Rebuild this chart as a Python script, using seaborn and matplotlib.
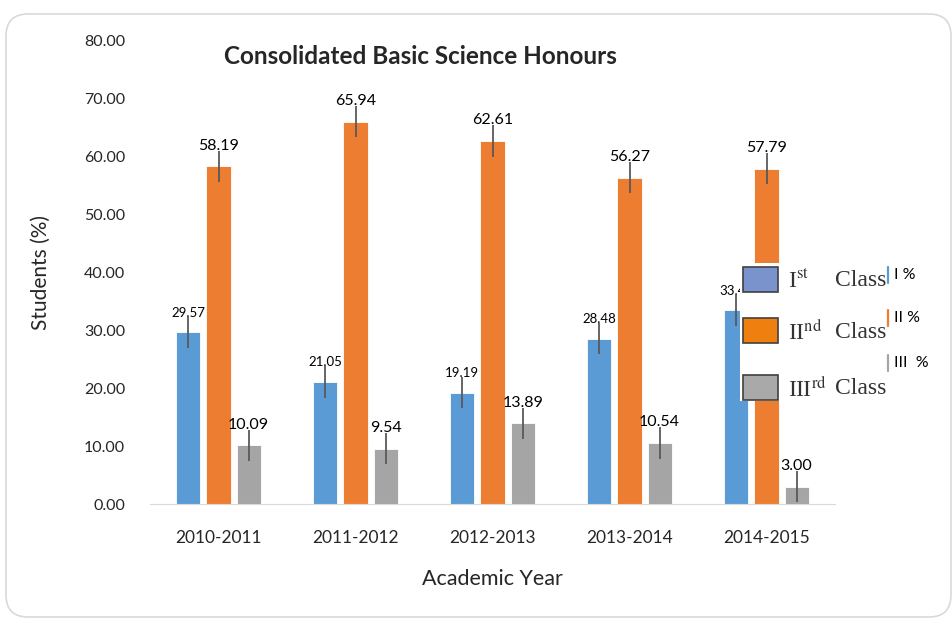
import numpy as np
import pandas as pd
import matplotlib
matplotlib.use("Agg")
import matplotlib.pyplot as plt
import seaborn as sns
from matplotlib.patches import FancyBboxPatch, Rectangle

# chart values
years = ["2010-2011", "2011-2012", "2012-2013", "2013-2014", "2014-2015"]
classes = ["I %", "II %", "III  %"]
first_class = [29.57, 21.05, 19.19, 28.48, 33.40]
second_class = [58.19, 65.94, 62.61, 56.27, 57.79]
third_class = [10.09, 9.54, 13.89, 10.54, 3.00]
error = [2.7, 2.7, 2.7]
colors = ["#5b9bd5", "#ed7d31", "#a5a5a5"]
y_ticks = [0, 10, 20, 30, 40, 50, 60, 70, 80]

df = pd.DataFrame({
    "year": years * 3,
    "pct": first_class + second_class + third_class,
    "cls": [c for c in classes for _ in years],
})

sns.set_style("white")
plt.rcParams["font.family"] = ["Lato", "DejaVu Sans"]
plt.rcParams["mathtext.fontset"] = "stix"

fig = plt.figure(figsize=(9.52, 6.21), dpi=100)
W, H = 952, 621

# overlay in pixel coords for the rounded frame
over = fig.add_axes([0, 0, 1, 1], zorder=0)
over.set_xlim(0, W)
over.set_ylim(H, 0)
over.axis("off")
over.add_patch(FancyBboxPatch((6, 14), 945, 603, boxstyle="round,pad=0,rounding_size=22",
                              fc="white", ec="#d9d9d9", lw=1.2))

ax = fig.add_axes([150 / W, 1 - 504 / H, 685 / W, 464 / H], zorder=1)
ax.patch.set_alpha(0)
sns.barplot(data=df, x="year", y="pct", hue="cls", palette=colors,
            width=0.66, gap=0.2, legend=False, ax=ax, saturation=1,
            edgecolor="white", linewidth=0.6)

# error bars and value labels
for i, p in enumerate(ax.patches):
    cx = p.get_x() + p.get_width() / 2
    h = p.get_height()
    k = i // len(years)
    ax.errorbar(cx, h, yerr=error[k], color="#595959", lw=1.3, capsize=0)
    fs = 9.5 if k == 0 else 11.5
    ax.annotate(f"{h:.2f}", (cx, h + error[k]), xytext=(0, -1.5), textcoords="offset points",
                ha="center", va="bottom", fontsize=fs, color="#000000")

ax.set_ylim(0, 80)
ax.set_xlim(-0.5, 4.5)
ax.set_yticks(y_ticks)
ax.set_yticklabels([f"{v:.2f}" for v in y_ticks], fontsize=11.5)
ax.tick_params(axis="y", length=0, pad=18)
ax.tick_params(axis="x", which="major", length=0, pad=19, labelsize=12.5)
ax.set_xticks(np.arange(-0.5, 5, 1), minor=True)
ax.tick_params(axis="x", which="minor", length=7, color="#d9d9d9", width=1)
for s in ["top", "right", "left"]:
    ax.spines[s].set_visible(False)
ax.spines["bottom"].set_color("#d9d9d9")
ax.set_xlabel("Academic Year", fontsize=15.5, labelpad=16)
ax.set_ylabel("Students (%)", fontsize=15, labelpad=24)

# title and pasted picture-style legend, on top of the bars
top = fig.add_axes([0, 0, 1, 1], zorder=3)
top.set_xlim(0, W)
top.set_ylim(H, 0)
top.axis("off")
top.text(420, 57, "Consolidated Basic Science Honours", fontsize=17.5, fontweight="bold",
         ha="center", va="center")
top.add_patch(Rectangle((740, 263), 146, 138, fc="white", ec="none"))
box_cols = ["#7a93cc", "#ef8010", "#a9a9a9"]
box_y = [267, 318, 375]
labels = ["I$^{\\mathrm{st}}$", "II$^{\\mathrm{nd}}$", "III$^{\\mathrm{rd}}$"]
for c, yb, lab in zip(box_cols, box_y, labels):
    top.add_patch(Rectangle((743, yb), 35, 25, fc=c, ec="#404040", lw=1.2))
    top.text(788, yb + 14, lab, fontsize=17, family="Liberation Serif",
             color="#333333", va="center", ha="left")
    top.text(886, yb + 14, "Class", fontsize=17, family="Liberation Serif",
             color="#333333", va="center", ha="right")

for c, yl, lab in zip(colors, [275, 318, 363], classes):
    top.plot([888, 888], [yl - 8, yl + 8], color=c, lw=1.6)
    top.text(894, yl, lab, fontsize=11.5, va="center", ha="left", color="#000000")

fig.savefig("out.png", dpi=100)
